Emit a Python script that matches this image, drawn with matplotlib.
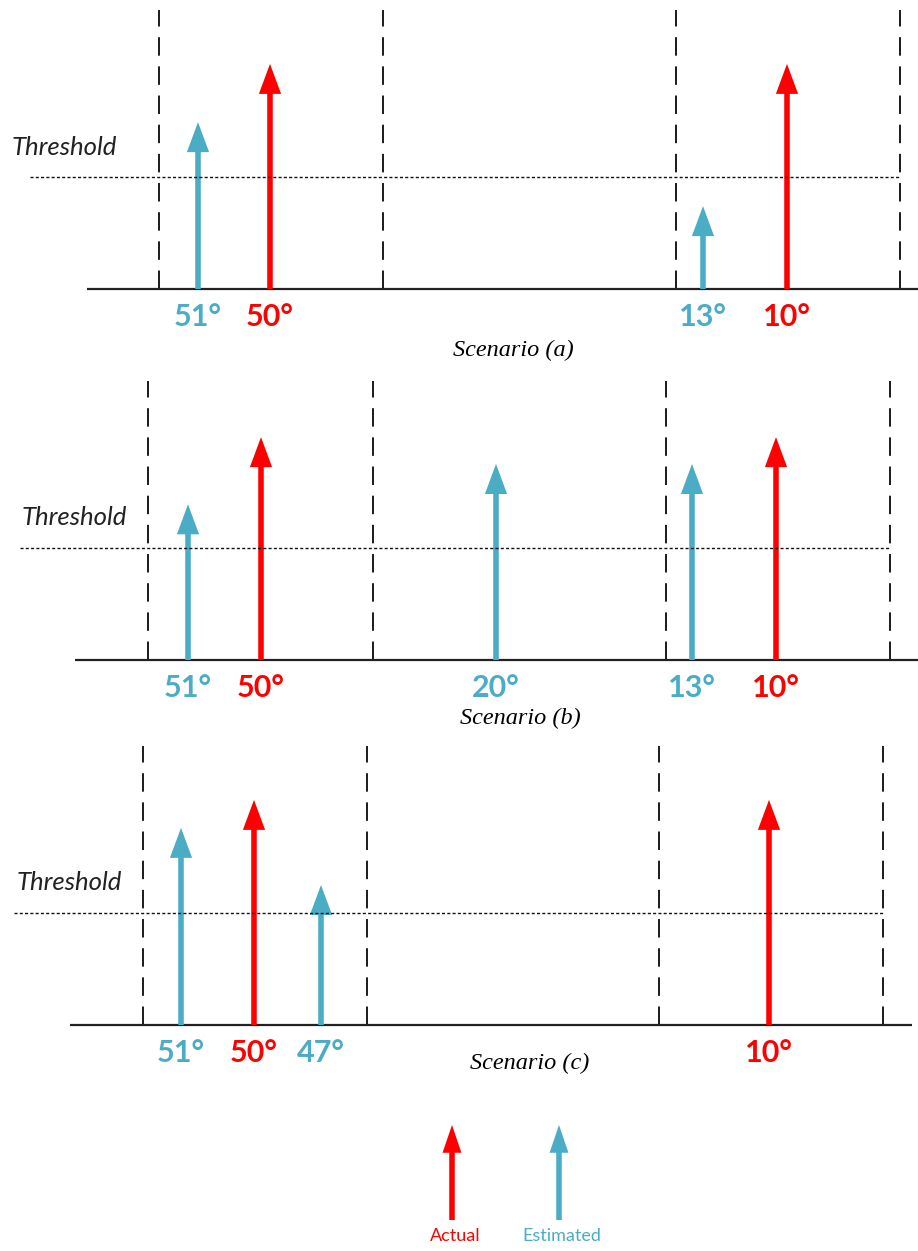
import matplotlib
matplotlib.use("Agg")
import matplotlib.pyplot as plt

# ---------------- data ----------------
RED = "#FF0000"
BLUE = "#4BACC6"
KIND_COLOR = {"Actual": RED, "Estimated": BLUE}

threshold_level = 1.0

# Scenario (a)
a_angles = [51, 50, 13, 10]
a_kinds = ["Estimated", "Actual", "Estimated", "Actual"]
a_heights = [1.49, 2.01, 0.74, 2.01]

# Scenario (b)
b_angles = [51, 50, 20, 13, 10]
b_kinds = ["Estimated", "Actual", "Estimated", "Estimated", "Actual"]
b_heights = [1.39, 1.99, 1.75, 1.75, 1.99]

# Scenario (c)
c_angles = [51, 50, 47, 10]
c_kinds = ["Estimated", "Actual", "Estimated", "Actual"]
c_heights = [1.76, 2.01, 1.25, 2.01]

scenario_titles = ["Scenario (a)", "Scenario (b)", "Scenario (c)"]
legend_kinds = ["Actual", "Estimated"]

# ---------------- layout (figure pixel units along x) ----------------
W, H, DPI = 918, 1251, 100
SCALE = 112.0  # pixels per height unit

layouts = [
    dict(band=(0, 370), base=289, xs=[198, 270, 703, 787], dashes=[159, 383, 676, 900],
         base_x=(87, 918), thr_x=(30, 900), thr_lbl=(12, 1.26), title=(513, -0.545)),
    dict(band=(370, 740), base=660, xs=[188, 261, 496, 692, 776], dashes=[148, 373, 666, 890],
         base_x=(75, 918), thr_x=(20, 890), thr_lbl=(22, 1.27), title=(520, -0.52)),
    dict(band=(740, 1100), base=1025, xs=[181, 254, 321, 769], dashes=[143, 367, 659, 883],
         base_x=(70, 912), thr_x=(14, 883), thr_lbl=(17, 1.27), title=(530, -0.34)),
]
scenarios = [(a_angles, a_kinds, a_heights), (b_angles, b_kinds, b_heights),
             (c_angles, c_kinds, c_heights)]

DASH_TOP = 2.49
LABEL_Y = -0.25
HEAD_LEN_PX = 30

fig = plt.figure(figsize=(W / DPI, H / DPI), dpi=DPI)
fig.patch.set_facecolor("white")


def draw_arrow(ax, x, y0, y1, color, px_per_unit, head_w=8.0, head_l=21.6):
    # shaft stops inside the head so the tip stays sharp
    back = 0.5 * HEAD_LEN_PX / px_per_unit
    ax.vlines(x, y0, y1 - back, colors=color, lw=4.0, zorder=3)
    ax.annotate("", xy=(x, y1), xytext=(x, y1 - 2 * back),
                arrowprops=dict(arrowstyle=f"-|>,head_length={head_l},head_width={head_w}",
                                mutation_scale=1, lw=0, color=color,
                                shrinkA=0, shrinkB=0), zorder=3)


for idx, ((angles, kinds, heights), lay) in enumerate(zip(scenarios, layouts)):
    p0, p1 = lay["band"]
    pb = lay["base"]
    ax = fig.add_axes([0, 1 - p1 / H, 1, (p1 - p0) / H])
    ax.set_xlim(0, W)
    ax.set_ylim((pb - p1) / SCALE, (pb - p0) / SCALE)
    ax.axis("off")

    # dashed separators
    ax.vlines(lay["dashes"], 0, DASH_TOP, colors="#1a1a1a", lw=1.4,
              linestyles=[(0, (9.5, 5.5))], zorder=1)
    # baseline
    ax.plot(lay["base_x"], [0, 0], color="#222222", lw=1.6, solid_capstyle="butt", zorder=2)
    # threshold
    ax.plot(lay["thr_x"], [threshold_level, threshold_level], color="#111111", lw=1.0,
            linestyle=(0, (2.2, 1.6)), zorder=4)
    ax.text(lay["thr_lbl"][0], lay["thr_lbl"][1], "Threshold", fontsize=18.5,
            family="Lato", style="italic", color="#222222", ha="left", va="center")

    for x, ang, kind, h in zip(lay["xs"], angles, kinds, heights):
        col = KIND_COLOR[kind]
        draw_arrow(ax, x, 0, h, col, SCALE)
        ax.text(x, LABEL_Y, f"{ang}°", fontsize=22, family="Lato", weight="bold",
                color=col, ha="center", va="center")

    tx, ty = lay["title"]
    ax.text(tx, ty, scenario_titles[idx], fontsize=17.5, family="Liberation Serif",
            style="italic", color="black", ha="center", va="center")

# legend
lax = fig.add_axes([0, 0, 1, 151 / H])
lax.set_xlim(0, W)
lax.set_ylim(1100, 1251)
lax.invert_yaxis()
lax.axis("off")
for x, kind in zip([452, 559], legend_kinds):
    col = KIND_COLOR[kind]
    # pixel-based axes: 1 unit = 1 px, y inverted
    back = 0.5 * 28
    lax.vlines(x, 1220, 1125 + back, colors=col, lw=4.0, zorder=3)
    lax.annotate("", xy=(x, 1125), xytext=(x, 1125 + 2 * back),
                 arrowprops=dict(arrowstyle="-|>,head_length=20,head_width=6.8",
                                 mutation_scale=1, lw=0, color=col,
                                 shrinkA=0, shrinkB=0), zorder=3)
    lax.text(x + 3, 1236, kind, fontsize=13, family="Lato", color=col,
             ha="center", va="center")

fig.savefig("out.png", dpi=DPI)
